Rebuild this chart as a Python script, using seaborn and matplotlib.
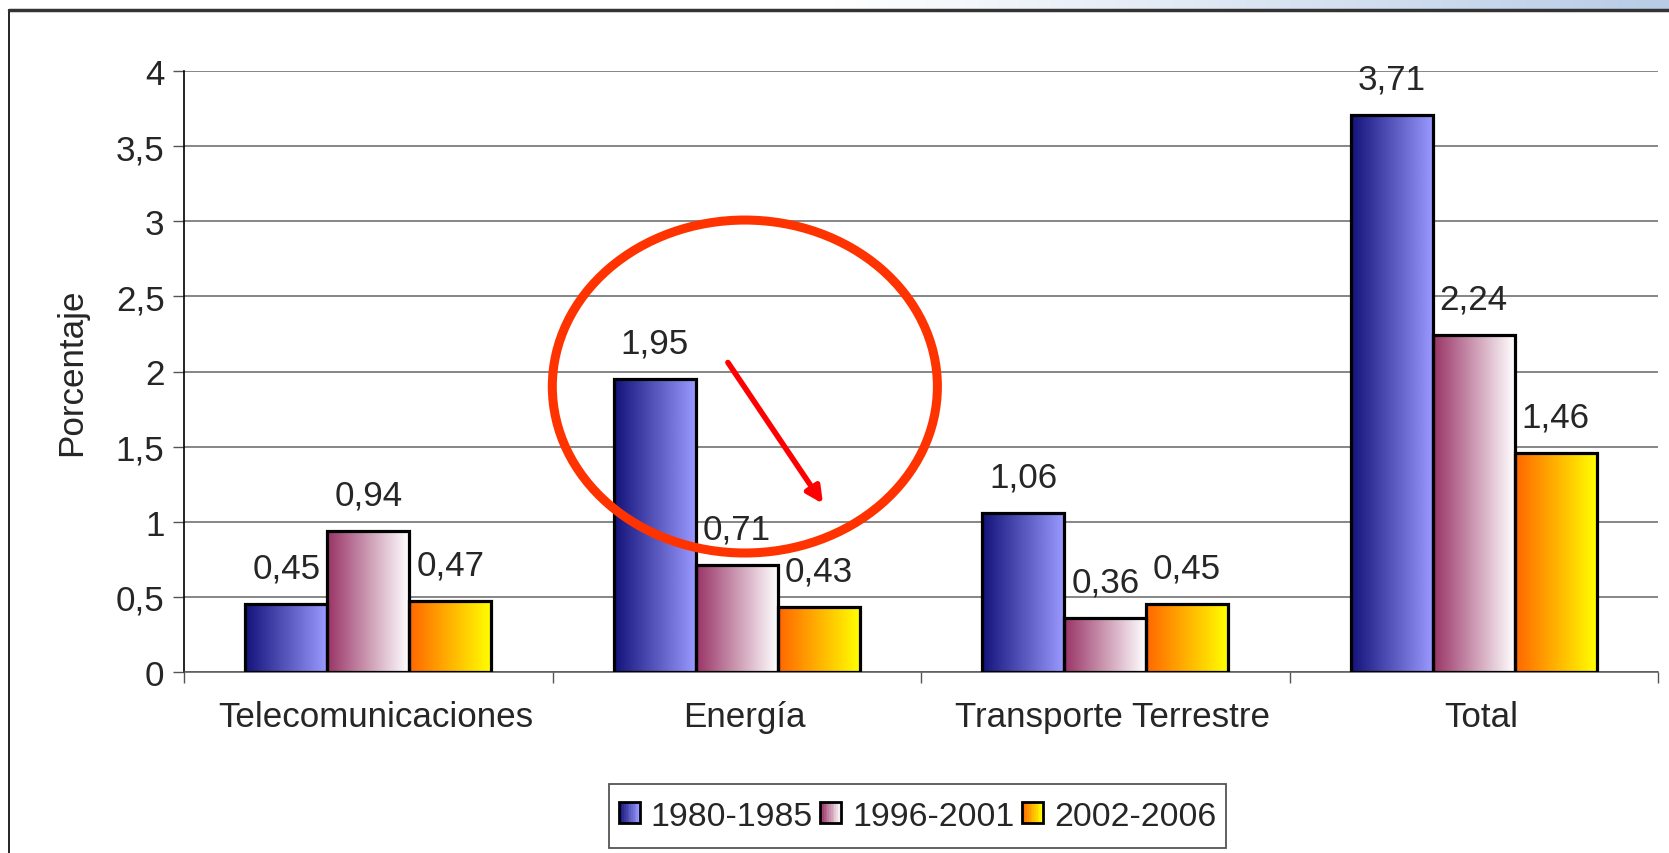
import numpy as np
import pandas as pd
import matplotlib
matplotlib.use("Agg")
import matplotlib.pyplot as plt
import matplotlib.transforms as mtransforms
import seaborn as sns
from matplotlib.colors import LinearSegmentedColormap, to_rgb
from matplotlib.patches import Ellipse, Rectangle
from matplotlib.legend_handler import HandlerBase

# ---- data ----
categories = ["Telecomunicaciones", "Energía", "Transporte Terrestre", "Total"]
series = ["1980-1985", "1996-2001", "2002-2006"]
v_1980_1985 = [0.45, 1.95, 1.06, 3.71]
v_1996_2001 = [0.94, 0.71, 0.36, 2.24]
v_2002_2006 = [0.47, 0.43, 0.45, 1.46]
y_ticks = [0, 0.5, 1, 1.5, 2, 2.5, 3, 3.5, 4]
y_ticklabels = ["0", "0,5", "1", "1,5", "2", "2,5", "3", "3,5", "4"]

grad_colors = {
    "1980-1985": ("#12127a", "#9999ff"),
    "1996-2001": ("#993366", "#ffffff"),
    "2002-2006": ("#ff6600", "#ffff00"),
}

df = pd.DataFrame({
    "cat": categories * 3,
    "serie": [s for s in series for _ in categories],
    "val": v_1980_1985 + v_1996_2001 + v_2002_2006,
})

FS = 25.2
LFS = 24.4

sns.set_theme(style="white")
plt.rcParams["font.family"] = ["Liberation Sans", "DejaVu Sans"]

fig = plt.figure(figsize=(16.69, 8.54), dpi=100)

# top decorative gradient strip
strip = fig.add_axes([0, 1 - 11 / 854, 1, 11 / 854])
sc = LinearSegmentedColormap.from_list("strip", ["#ffffff", "#ffffff", "#b8cce6"])
strip.imshow(np.linspace(0, 1, 256)[None, :], aspect="auto", cmap=sc, extent=[0, 1, 0, 1])
strip.set_axis_off()

# outer frame
fig.add_artist(Rectangle((9 / 1669, -0.01), 1.0, 1 - 11 / 854 + 0.01, transform=fig.transFigure,
                         fill=False, edgecolor="#000000", linewidth=1.2))
fig.add_artist(plt.Line2D([9 / 1669, 1], [1 - 11 / 854, 1 - 11 / 854], transform=fig.transFigure,
                          color="#333333", linewidth=2.5))

ax = fig.add_axes([184 / 1669, 1 - 673 / 854, (1658 - 184) / 1669, (673 - 72) / 854])

sns.barplot(data=df, x="cat", y="val", hue="serie", order=categories, hue_order=series,
            width=0.667, gap=0, ax=ax, legend=False, errorbar=None,
            edgecolor="black", linewidth=2.3, saturation=1)

ax.set_xlim(-0.5, 3.5)
ax.set_ylim(0, 4)

# gradient fills clipped to bars
for cont, s in zip(ax.containers, series):
    cmap = LinearSegmentedColormap.from_list(s, list(grad_colors[s]))
    for bar in cont:
        bar.set_facecolor("none")
        bar.set_zorder(3)
        x0, y0 = bar.get_x(), bar.get_y()
        w, h = bar.get_width(), bar.get_height()
        im = ax.imshow(np.linspace(0, 1, 256)[None, :], extent=[x0, x0 + w, y0, y0 + h],
                       aspect="auto", cmap=cmap, zorder=2.5, interpolation="bilinear")
        im.set_clip_path(bar)
    labels = [f"{v:.2f}".replace(".", ",") for v in cont.datavalues]
    ax.bar_label(cont, labels=labels, padding=14, fontsize=FS)

ax.set_xlim(-0.5, 3.5)
ax.set_ylim(0, 4)
ax.set_aspect("auto")

ax.set_axisbelow(True)
ax.set_yticks(y_ticks)
ax.set_yticklabels(y_ticklabels, fontsize=FS)
ax.yaxis.grid(True, color="#666666", linewidth=1.1)
ax.xaxis.grid(False)
ax.set_xticks([0, 1, 2, 3])
ax.set_xticklabels(categories, fontsize=FS)
ax.set_xticks([-0.5, 0.5, 1.5, 2.5, 3.5], minor=True)
ax.tick_params(axis="x", which="major", length=0, pad=20)
ax.tick_params(axis="x", which="minor", length=8, width=1, color="#555555", bottom=True, direction="out")
ax.tick_params(axis="y", length=8, width=1, color="#555555", left=True, direction="out", pad=6)
ax.set_xlabel("")
ax.set_ylabel("Porcentaje", fontsize=FS, labelpad=20)

shift = mtransforms.ScaledTranslation(7.5 / 100, 0, fig.dpi_scale_trans)
for lbl in ax.get_xticklabels():
    lbl.set_transform(lbl.get_transform() + shift)

for side in ["top", "right"]:
    ax.spines[side].set_visible(False)
ax.spines["left"].set_color("black")
ax.spines["left"].set_linewidth(1.2)
ax.spines["bottom"].set_color("#555555")
ax.spines["bottom"].set_linewidth(1.1)

# annotation: red ellipse and arrow over Energía
ax.add_patch(Ellipse((1.022, 1.90), 1.045, 2.216, fill=False, edgecolor="#ff3300",
                     linewidth=6.5, zorder=6, clip_on=False))
ax.annotate("", xy=(1.234, 1.12), xytext=(0.976, 2.06),
            arrowprops=dict(arrowstyle="-|>,head_length=0.8,head_width=0.4", color="#ff0000",
                            linewidth=4, shrinkA=0, shrinkB=0), zorder=7)


# legend with gradient squares
class GradHandler(HandlerBase):
    def __init__(self, c0, c1):
        super().__init__()
        self.c0, self.c1 = np.array(to_rgb(c0)), np.array(to_rgb(c1))

    def create_artists(self, legend, orig_handle, xdescent, ydescent, width, height, fontsize, trans):
        side = min(width, height)
        x0 = -xdescent + (width - side) / 2
        y0 = -ydescent + (height - side) / 2
        n = 12
        arts = []
        for i in range(n):
            t = i / (n - 1)
            c = self.c0 * (1 - t) + self.c1 * t
            arts.append(Rectangle((x0 + side * i / n, y0), side / n + 0.3, side, facecolor=c,
                                  edgecolor="none", transform=trans))
        arts.append(Rectangle((x0, y0), side, side, facecolor="none", edgecolor="black",
                              linewidth=2, transform=trans))
        return arts


handles = [Rectangle((0, 0), 1, 1) for _ in series]
hmap = {h: GradHandler(*grad_colors[s]) for h, s in zip(handles, series)}
leg = fig.legend(handles, series, handler_map=hmap, loc="center", bbox_to_anchor=(0.5497, 0.0433),
                 ncol=3, fontsize=LFS, frameon=False,
                 handlelength=0.62, handleheight=0.62, handletextpad=0.32, columnspacing=0.22,
                 borderpad=0.0, borderaxespad=0)

# legend frame with Excel-like padding (derived from the legend's rendered extent)
fig.canvas.draw()
bb = leg.get_window_extent()
padx, half_h = 10, 32
W, H = fig.bbox.width, fig.bbox.height
cy = (bb.y0 + bb.y1) / 2
fig.add_artist(Rectangle(((bb.x0 - padx) / W, (cy - half_h) / H),
                         (bb.width + 2 * padx) / W, (2 * half_h) / H,
                         transform=fig.transFigure, fill=False, edgecolor="#555555", linewidth=1.3))

fig.savefig("out.png", dpi=100)
